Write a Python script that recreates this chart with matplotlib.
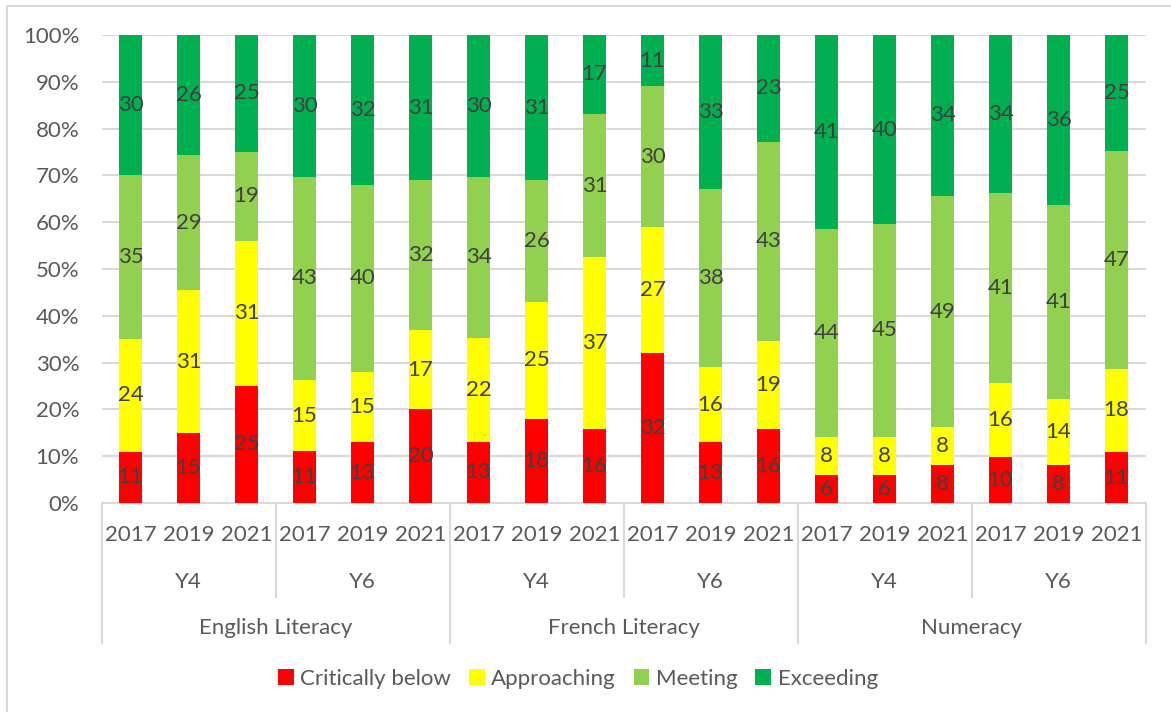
import numpy as np
from matplotlib import pyplot as plt
from matplotlib.patches import Patch, Rectangle
from matplotlib.lines import Line2D
import matplotlib.transforms as mtransforms

plt.rcParams['font.family'] = ['Lato', 'DejaVu Sans']

subjects = ['English Literacy', 'French Literacy', 'Numeracy']
year_groups = ['Y4', 'Y6']
years = ['2017', '2019', '2021']

critically_below = [11, 15, 25, 11, 13, 20, 13, 18, 16, 32, 13, 16, 6, 6, 8, 10, 8, 11]
approaching = [24, 31, 31, 15, 15, 17, 22, 25, 37, 27, 16, 19, 8, 8, 8, 16, 14, 18]
meeting = [35, 29, 19, 43, 40, 32, 34, 26, 31, 30, 38, 43, 44, 45, 49, 41, 41, 47]
exceeding = [30, 26, 25, 30, 32, 31, 30, 31, 17, 11, 33, 23, 41, 40, 34, 34, 36, 25]

series = [critically_below, approaching, meeting, exceeding]
names = ['Critically below', 'Approaching', 'Meeting', 'Exceeding']
colors = ['#FF0000', '#FFFF00', '#92D050', '#00B050']

FS = 16
W, H = 1171, 712
fig = plt.figure(figsize=(W / 100, H / 100), dpi=100)
ax = fig.add_axes([101.5 / W, (H - 503) / H, 1044 / W, 468 / H])

data = np.array(series, dtype=float)
totals = data.sum(axis=0)
pct = data / totals * 100
x = np.arange(data.shape[1])
bottom = np.zeros(len(x))
for vals, raw, c in zip(pct, data, colors):
    ax.bar(x, vals, bottom=bottom, width=0.4, color=c, zorder=2)
    for xi, b, v, r in zip(x, bottom, vals, raw):
        ax.text(xi, b + v / 2, f'{int(r)}', ha='center', va='center',
                fontsize=FS, color='#404040', zorder=3)
    bottom += vals

ax.set_xlim(-0.5, len(x) - 0.5)
ax.set_ylim(0, 100)
ax.set_yticks(np.arange(0, 101, 10))
ax.set_yticklabels([f'{v}%' for v in range(0, 101, 10)])
ax.tick_params(axis='y', length=0, pad=16, labelsize=FS, labelcolor='#595959')
ax.set_xticks([])
ax.yaxis.grid(True, color='#D9D9D9', linewidth=1.5, zorder=0)
for s in ['left', 'top', 'right']:
    ax.spines[s].set_visible(False)
ax.spines['bottom'].set_color('#D9D9D9')
ax.spines['bottom'].set_linewidth(1.5)
ax.spines['bottom'].set_zorder(1)

# multi-level category axis
trans = mtransforms.blended_transform_factory(ax.transData, ax.transAxes)
def ay(py):
    return (503 - py) / 468

for i in x:
    ax.text(i, ay(535), years[i % 3], transform=trans, ha='center', va='center',
            fontsize=FS, color='#595959')
for g in range(6):
    ax.text(g * 3 + 1, ay(582), year_groups[g % 2], transform=trans, ha='center',
            va='center', fontsize=FS, color='#595959')
for s, name in enumerate(subjects):
    ax.text(s * 6 + 2.5, ay(628), name, transform=trans, ha='center', va='center',
            fontsize=FS, color='#595959')

for b in np.arange(-0.5, len(x), 3):
    low = ay(643) if (b + 0.5) % 6 == 0 else ay(597)
    ax.add_line(Line2D([b, b], [0, low], transform=trans, color='#D9D9D9',
                       linewidth=1.5, clip_on=False))

# chart frame
fig.patches.append(Rectangle((7 / W, -0.1), 1.2, (H - 6) / H + 0.1, transform=fig.transFigure,
                             fill=False, edgecolor='#D9D9D9', linewidth=1.5))

handles = [Patch(facecolor=c, label=n) for c, n in zip(colors, names)]
fig.legend(handles=handles, loc='center', bbox_to_anchor=(578 / W, 1 - 679 / H), ncol=4,
           frameon=False, fontsize=FS, labelcolor='#595959', handlelength=0.7,
           handleheight=0.7, handletextpad=0.3, columnspacing=0.8)

fig.savefig('out.png', dpi=100)
